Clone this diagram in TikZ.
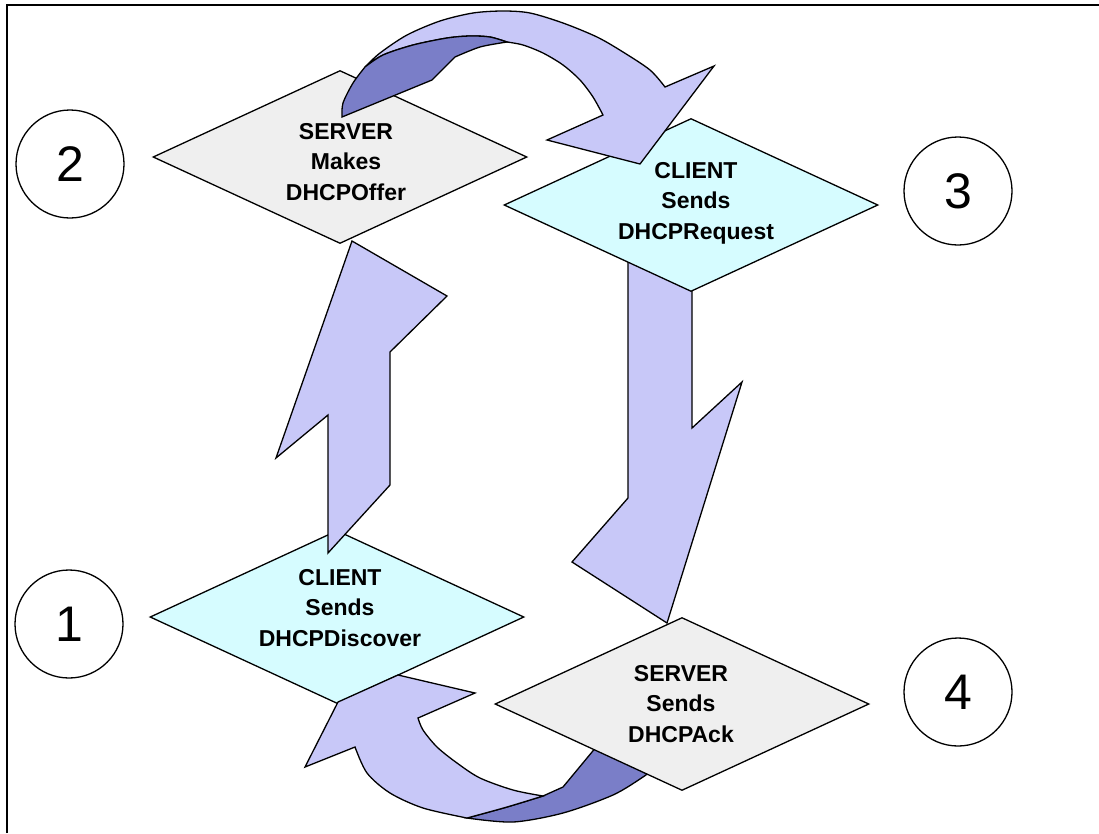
\documentclass[tikz,border=0pt]{standalone}
\usepackage{fontspec}
\setmainfont{Liberation Sans}
\usetikzlibrary{shapes.geometric}

\definecolor{servergray}{RGB}{239,239,239}
\definecolor{clientcyan}{RGB}{214,252,255}
\definecolor{arrowlight}{RGB}{200,200,248}
\definecolor{arrowdark}{RGB}{122,126,200}

\tikzset{
  outline/.style={draw=black, line width=1.3pt, line join=miter},
  stepdiamond/.style={diamond, outline, inner sep=0pt,
    minimum width=374pt, minimum height=173pt},
  serverbox/.style={stepdiamond, fill=servergray},
  clientbox/.style={stepdiamond, fill=clientcyan},
  steptext/.style={align=center, inner sep=0pt,
    font=\fontsize{23}{30.5}\selectfont\bfseries},
  stepnum/.style={circle, outline, fill=white, minimum size=108pt, inner sep=0pt,
    font=\fontsize{50}{50}\selectfont},
  lightarrow/.style={outline, fill=arrowlight},
  darkarrow/.style={outline, fill=arrowdark},
}

\begin{document}
\begin{tikzpicture}[x=1pt, y=-1pt]
\useasboundingbox (0,0) rectangle (1099,833);

% frame
\coordinate (fbl) at (7,833);
\coordinate (ftl) at (7,5);
\coordinate (ftr) at (1099,5);
\draw[line width=1.6pt] (fbl) -- (ftl) -- (ftr);

% step 3 -> 4: downward block arrow (top end hidden under the diamond)
\path[lightarrow] (628,250) -- (628,498) -- (572,562) -- (667,623)
  -- (742,382) -- (692,428) -- (692,250) -- cycle;

% step 4 -> 1: shaded underside of the bottom ribbon
\path[darkarrow] (467,818) -- plot[smooth] coordinates {(467,818) (507,807) (543,796)}
  -- (563,787) -- (592,752) -- (600,742) -- (660,745) -- (652,770)
  -- plot[smooth] coordinates {(652,770) (643,777) (613,795) (563,813) (513,822) (467,818)}
  -- cycle;

% the four steps
\node[clientbox] (d1) at (337,617) {};
\node[serverbox] (d2) at (340,157) {};
\node[clientbox] (d3) at (691,205) {};
\node[serverbox] (d4) at (682,704) {};

\node[steptext] (t1) at (340,608) {CLIENT\\Sends\\DHCPDiscover};
\node[steptext] (t2) at (346,162) {SERVER\\Makes\\DHCPOffer};
\node[steptext] (t3) at (696,203) {CLIENT\\Sends\\DHCPRequest};
\node[steptext] (t4) at (681,704) {SERVER\\Sends\\DHCPAck};

% step 1 -> 2: upward block arrow
\path[lightarrow] (352,241) -- (447,296) -- (390,352) -- (390,485)
  -- (328,553) -- (328,415) -- (276,458) -- cycle;

% step 2 -> 3: curved ribbon arrow over the top
\path[lightarrow] (365,67)
  -- plot[smooth] coordinates {(365,67) (380,53) (407,35) (440,21) (473,13)
       (503,11) (530,13) (563,23) (597,37) (623,52) (650,70) (665,87)}
  -- (714,66) -- (640,164) -- (547,140) -- (603,115)
  -- plot[smooth] coordinates {(603,115) (593,97) (580,80) (563,65) (543,53)
       (523,45) (507,42)}
  -- plot[smooth] coordinates {(507,42) (490,37) (470,36) (447,38) (413,45)
       (383,55) (365,67)}
  -- cycle;
\path[darkarrow] (342,117)
  -- plot[smooth] coordinates {(342,117) (343,103) (353,83) (365,67)}
  -- plot[smooth] coordinates {(365,67) (383,55) (413,45) (447,38) (470,36)
       (490,37) (507,42)}
  -- plot[smooth] coordinates {(507,42) (480,47) (455,57)}
  -- (432,80) -- cycle;

% step 4 -> 1: curved ribbon arrow along the bottom
\path[lightarrow] (338,702) -- (398,675) -- (475,693) -- (418,718)
  -- plot[smooth] coordinates {(418,718) (423,730) (437,747) (457,763)
       (480,778) (513,790) (543,796)}
  -- plot[smooth] coordinates {(543,796) (507,807) (467,818)}
  -- plot[smooth] coordinates {(467,818) (423,808) (390,793) (367,773) (355,747)}
  -- (305,767) -- cycle;

% step numbers
\node[stepnum] (n1) at (69,624) {1};
\node[stepnum] (n2) at (70,164) {2};
\node[stepnum] (n3) at (958,191) {3};
\node[stepnum] (n4) at (958,692) {4};
\end{tikzpicture}
\end{document}
